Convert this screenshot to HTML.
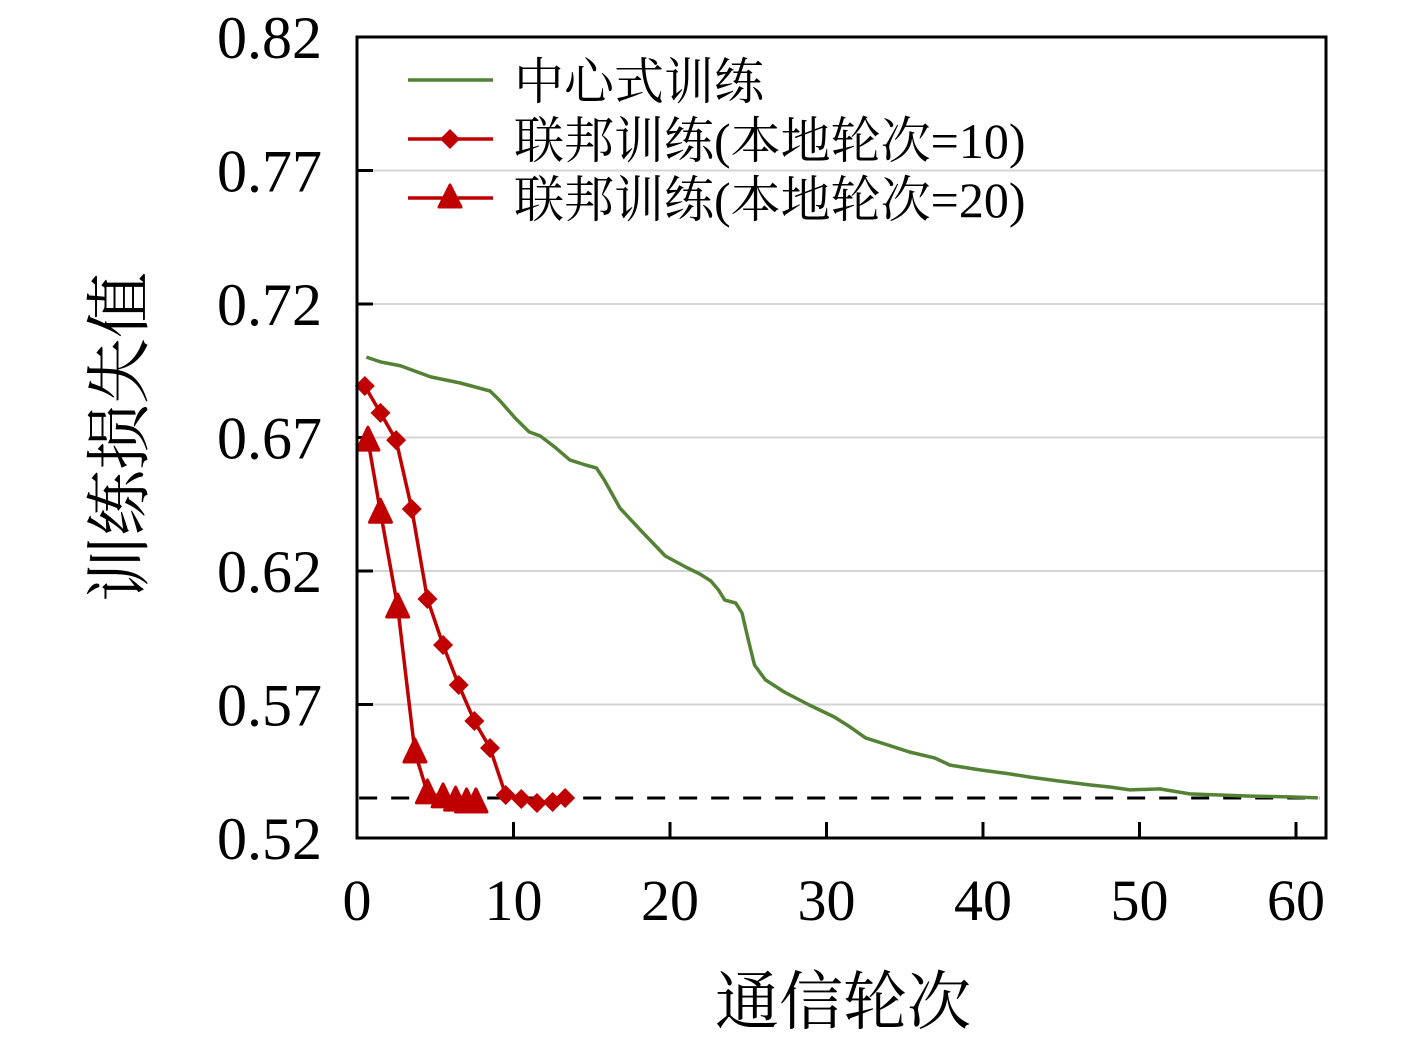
<!DOCTYPE html>
<html><head><meta charset="utf-8">
<style>
html,body{margin:0;padding:0;background:#fff;}
svg{display:block;}
text{font-family:"Liberation Serif","Noto Serif CJK SC",serif;fill:#000;}
</style></head>
<body>
<svg id="chart" width="1417" height="1039" viewBox="0 0 1417 1039" xmlns="http://www.w3.org/2000/svg"></svg>
<script>
const xTicks=[0,10,20,30,40,50,60];
const yTicks=[0.52,0.57,0.62,0.67,0.72,0.77,0.82];
const yTickLabels=["0.52","0.57","0.62","0.67","0.72","0.77","0.82"];
const baseline=0.535;
const centralX=[0.6,1.5,2.8,4.7,6.6,8.5,9.1,10.1,11.0,11.7,12.7,13.6,14.6,15.3,15.8,16.8,18.1,19.7,21.0,21.9,22.6,23.1,23.5,24.2,24.6,25.0,25.4,26.1,27.3,28.9,30.5,31.5,32.5,34.1,35.3,36.9,37.9,39.8,41.7,43.0,44.9,46.8,48.1,49.4,51.3,53.2,55.1,57.1,59.6,61.4];
const centralY=[0.7001,0.6983,0.6968,0.6927,0.6904,0.6874,0.6840,0.6773,0.6721,0.6706,0.6661,0.6616,0.6597,0.6586,0.6541,0.6436,0.6354,0.6256,0.6215,0.6189,0.6163,0.6129,0.6091,0.6080,0.6043,0.5942,0.5848,0.5792,0.5747,0.5698,0.5653,0.5616,0.5575,0.5545,0.5522,0.5500,0.5473,0.5455,0.5440,0.5428,0.5413,0.5399,0.5391,0.5380,0.5384,0.5365,0.5361,0.5357,0.5354,0.5350];
const fed10X=[0.5,1.5,2.5,3.5,4.5,5.5,6.5,7.5,8.5,9.5,10.5,11.5,12.5,13.3];
const fed10Y=[0.6893,0.6792,0.6690,0.6432,0.6095,0.5923,0.5773,0.5638,0.5537,0.5361,0.5346,0.5331,0.5335,0.5350];
const fed20X=[0.7,1.5,2.6,3.7,4.5,5.5,6.3,7.0,7.6];
const fed20Y=[0.6690,0.6420,0.6065,0.5522,0.5369,0.5354,0.5342,0.5335,0.5335];

const L=357,R=1326,T=37,B=838;
const X=v=>L+v*15.65;
const Y=v=>B-(v-0.52)*2670;
const svg=document.getElementById('chart');
const NS='http://www.w3.org/2000/svg';
function mk(tag,attrs,parent){const e=document.createElementNS(NS,tag);for(const k in attrs)e.setAttribute(k,attrs[k]);(parent||svg).appendChild(e);return e;}

yTicks.forEach((t,i)=>{
  if(i>0&&i<yTicks.length-1){
    const g=mk('line',{x1:L,x2:R,y1:Y(t),y2:Y(t),stroke:'#d4d4d4','stroke-width':2});
    
    
  }
  const tk=mk('line',{x1:L,x2:L+16,y1:Y(t),y2:Y(t),stroke:'#000','stroke-width':3});
  
  
  const tx=mk('text',{x:322,y:Y(t)+21,'text-anchor':'end','font-size':60});
  tx.textContent=yTickLabels[i];
  
  
});
xTicks.forEach(t=>{
  const tk=mk('line',{x1:X(t),x2:X(t),y1:B,y2:B-16,stroke:'#000','stroke-width':3});
  
  
  const tx=mk('text',{x:X(t),y:920,'text-anchor':'middle','font-size':58});
  tx.textContent=String(t);
  
  
});

const bl=mk('line',{x1:X(-0.5)+10,x2:X(61.5),y1:Y(baseline),y2:Y(baseline),stroke:'#000','stroke-width':3,'stroke-dasharray':'18,14'});



function path(xs,ys){return xs.map((x,i)=>(i?'L':'M')+X(x).toFixed(1)+','+Y(ys[i]).toFixed(1)).join('');}
const c=mk('path',{d:path(centralX,centralY),fill:'none',stroke:'#548235','stroke-width':3.5,'stroke-linejoin':'round'});



const red='#c00000';
const p10=mk('path',{d:path(fed10X,fed10Y),fill:'none',stroke:red,'stroke-width':3.5});


fed10X.forEach((x,i)=>{
  const cx=X(x),cy=Y(fed10Y[i]);
  const m=mk('path',{d:`M${cx},${cy-10}L${cx+10},${cy}L${cx},${cy+10}L${cx-10},${cy}Z`,fill:red});
  
  
});
const p20=mk('path',{d:path(fed20X,fed20Y),fill:'none',stroke:red,'stroke-width':3.5});


fed20X.forEach((x,i)=>{
  const cx=X(x),cy=Y(fed20Y[i]);
  const m=mk('path',{d:`M${cx},${cy-13}L${cx+11},${cy+10}L${cx-11},${cy+10}Z`,fill:red,stroke:red,'stroke-width':3,'stroke-linejoin':'round'});
  
  
});

const fr=mk('rect',{x:L,y:T,width:R-L,height:B-T,fill:'none',stroke:'#000','stroke-width':3});



const lg=mk('g',{});


const items=[['中心式训练','#548235',null],['联邦训练(本地轮次=10)',red,'d'],['联邦训练(本地轮次=20)',red,'t']];
items.forEach((it,i)=>{
  const y=80+i*59;
  const e=mk('g',{},lg);
  
  
  mk('line',{x1:408,x2:493,y1:y,y2:y,stroke:it[1],'stroke-width':3.5},e);
  if(it[2]==='d')mk('path',{d:`M450,${y-10}L460,${y}L450,${y+10}L440,${y}Z`,fill:red},e);
  if(it[2]==='t')mk('path',{d:`M450,${y-13}L461,${y+9}L439,${y+9}Z`,fill:red,stroke:red,'stroke-width':3,'stroke-linejoin':'round'},e);
  const t=mk('text',{x:514,y:y+19,'font-size':50},e);
  t.textContent=it[0];
});

const yt=mk('text',{x:0,y:0,'font-size':66,'text-anchor':'middle',transform:'translate(142,437) rotate(-90)'});
yt.textContent='训练损失值';


const xt=mk('text',{x:843,y:1024,'font-size':64,'text-anchor':'middle'});
xt.textContent='通信轮次';


</script>
</body></html>
